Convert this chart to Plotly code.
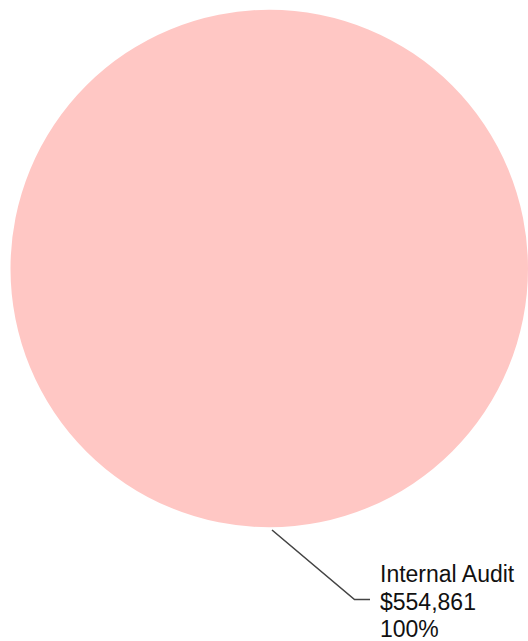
import plotly.graph_objects as go

W, H = 528, 641

categories = ["Internal Audit"]
values = [554861]
value_labels = ["$554,861"]
percent_labels = ["100%"]
colors = ["#FFC7C4"]


def px_x(x):
    return x / W


def px_y(y):
    return 1 - y / H


fig = go.Figure()
fig.add_trace(go.Pie(
    labels=categories,
    values=values,
    marker=dict(colors=colors, line=dict(width=0)),
    textinfo="none",
    sort=False,
    showlegend=False,
    domain=dict(x=[10.5 / W, 1.0], y=[113 / H, 632 / H]),
))

# leader line
fig.add_shape(
    type="path",
    xref="paper", yref="paper",
    path=f"M {px_x(272)} {px_y(530)} L {px_x(354.5)} {px_y(599.5)} L {px_x(370)} {px_y(599.5)}",
    line=dict(color="#444444", width=1.6),
)

lines = [categories[0], value_labels[0], percent_labels[0]]
centers = [573.5, 601.5, 629.0]
for txt, cy in zip(lines, centers):
    fig.add_annotation(
        text=txt,
        xref="paper", yref="paper",
        x=px_x(378), y=px_y(cy),
        xanchor="left", yanchor="middle",
        height=22,
        showarrow=False,
        font=dict(family="Liberation Sans, Arial, sans-serif", size=23, color="#111111"),
    )

fig.update_layout(
    width=W, height=H,
    margin=dict(l=0, r=0, t=0, b=0),
    paper_bgcolor="white",
    plot_bgcolor="white",
)

fig.write_html(
    "out.html",
    config={"displayModeBar": False},
    post_script="document.body.style.margin='0';document.body.style.overflow='hidden';",
)
